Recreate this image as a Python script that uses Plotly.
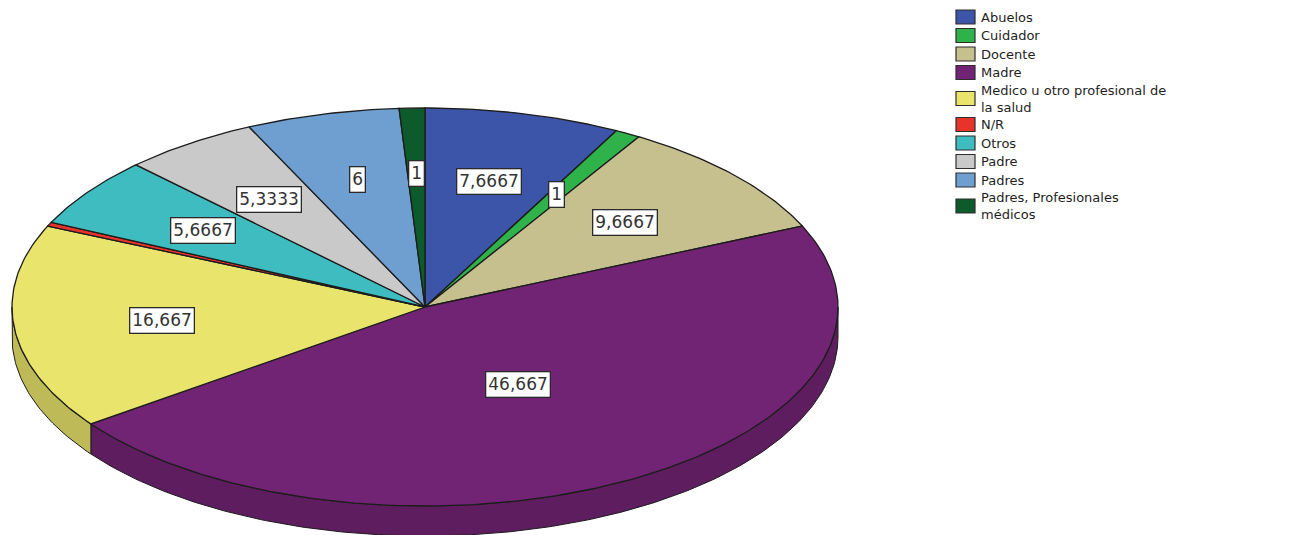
import numpy as np
import plotly.graph_objects as go

# ---------------- data ----------------
categories = [
    "Abuelos", "Cuidador", "Docente", "Madre",
    "Medico u otro profesional de la salud", "N/R", "Otros",
    "Padre", "Padres", "Padres, Profesionales médicos",
]
legend_labels = [
    "Abuelos", "Cuidador", "Docente", "Madre",
    "Medico u otro profesional de<br>la salud", "N/R", "Otros",
    "Padre", "Padres", "Padres, Profesionales<br>médicos",
]
values = [7.6667, 1, 9.6667, 46.667, 16.667, 0.3333, 5.6667, 5.3333, 6, 1]
value_labels = ["7,6667", "1", "9,6667", "46,667", "16,667", "",
                "5,6667", "5,3333", "6", "1"]

# ---------------- style ----------------
colors = ["#3d55a8", "#2fb24a", "#c6bf8e", "#722474", "#e9e46c",
          "#e8332b", "#3fbcc0", "#c9c9c9", "#6e9fd0", "#0d5a2b"]

W, H = 1295, 535
PAGE = 8                   # default body margin of the html page
CX, CY = 425, 307          # centre of the top face (screen px)
RX, RY = 413, 199          # ellipse radii
DEPTH = 30                 # thickness of the 3D side
LABEL_F = [0.65, 0.65, 0.645, 0.45, 0.64, 0.65, 0.66, 0.66, 0.66, 0.67]
EDGE = "#1c1c1c"

# legend geometry (screen px)
LEG_SW_X0, LEG_SW_X1 = 956, 975
LEG_SW_H = 14
LEG_TEXT_X = 979
LEG_Y0 = 17
LEG_ITEM_STEP = 18.5
LEG_LINE_STEP = 15
LEG_FONT = dict(family="DejaVu Sans", size=13, color="#1e1e1e")


def darker(hex_color, k=0.82):
    h = hex_color.lstrip("#")
    r, g, b = (int(h[i:i + 2], 16) for i in (0, 2, 4))
    return "#%02x%02x%02x" % (int(r * k), int(g * k), int(b * k))


def arc(a, b, f=1.0, dy=0.0):
    n = max(3, int(abs(b - a) / 360 * 500))
    t = np.radians(np.linspace(a, b, n))
    return CX + f * RX * np.sin(t), CY - f * RY * np.cos(t) + dy


total = float(sum(values))
starts = np.concatenate([[0.0], np.cumsum(values)[:-1]]) / total * 360
ends = np.cumsum(values) / total * 360

fig = go.Figure()

# sides (front half of the disc: 90..270 degrees)
for i, (a, b) in enumerate(zip(starts, ends)):
    lo, hi = max(a, 90.0), min(b, 270.0)
    if hi <= lo:
        continue
    xt, yt = arc(lo, hi)
    xb, yb = arc(hi, lo, dy=DEPTH)
    xs = np.concatenate([xt, xb, xt[:1]])
    ys = np.concatenate([yt, yb, yt[:1]])
    fig.add_trace(go.Scatter(
        x=xs, y=ys, mode="lines", fill="toself",
        fillcolor=darker(colors[i]), line=dict(color=EDGE, width=1),
        showlegend=False, hoverinfo="skip"))

# top faces
for i, (a, b) in enumerate(zip(starts, ends)):
    xa, ya = arc(a, b)
    xs = np.concatenate([[CX], xa, [CX]])
    ys = np.concatenate([[CY], ya, [CY]])
    fig.add_trace(go.Scatter(
        x=xs, y=ys, mode="lines", fill="toself",
        fillcolor=colors[i], line=dict(color=EDGE, width=1.3),
        showlegend=False, hoveron="fills", name=categories[i],
        hovertemplate=categories[i] + ": " + (value_labels[i] or "0,3333")
        + "<extra></extra>"))

# value labels
for i, (a, b) in enumerate(zip(starts, ends)):
    if not value_labels[i]:
        continue
    m = np.radians((a + b) / 2)
    fig.add_annotation(
        x=CX + LABEL_F[i] * RX * np.sin(m), y=CY - LABEL_F[i] * RY * np.cos(m),
        xref="x", yref="y", text=value_labels[i], showarrow=False,
        font=dict(family="DejaVu Sans", size=17, color="#333333"),
        bgcolor="white", bordercolor="#2a2a2a", borderwidth=1.3, borderpad=2)

# legend (drawn as swatches + text)
y = LEG_Y0
for i, lab in enumerate(legend_labels):
    n_lines = lab.count("<br>") + 1
    ymid = y + (n_lines - 1) * LEG_LINE_STEP / 2
    fig.add_shape(type="rect", xref="x", yref="y",
                  x0=LEG_SW_X0, x1=LEG_SW_X1,
                  y0=ymid - LEG_SW_H / 2, y1=ymid + LEG_SW_H / 2,
                  fillcolor=colors[i], line=dict(color="#2e2e2e", width=1.2))
    fig.add_annotation(x=LEG_TEXT_X, y=ymid, xref="x", yref="y", text=lab,
                       showarrow=False, xanchor="left", yanchor="middle",
                       align="left", font=LEG_FONT)
    y += LEG_ITEM_STEP + (n_lines - 1) * LEG_LINE_STEP

fig.update_layout(
    width=W, height=H, margin=dict(l=0, r=0, t=0, b=0),
    paper_bgcolor="white", plot_bgcolor="white",
    xaxis=dict(range=[PAGE, W + PAGE], visible=False, fixedrange=True),
    yaxis=dict(range=[H + PAGE, PAGE], visible=False, fixedrange=True),
    showlegend=False,
)

fig.write_html("out.html")
